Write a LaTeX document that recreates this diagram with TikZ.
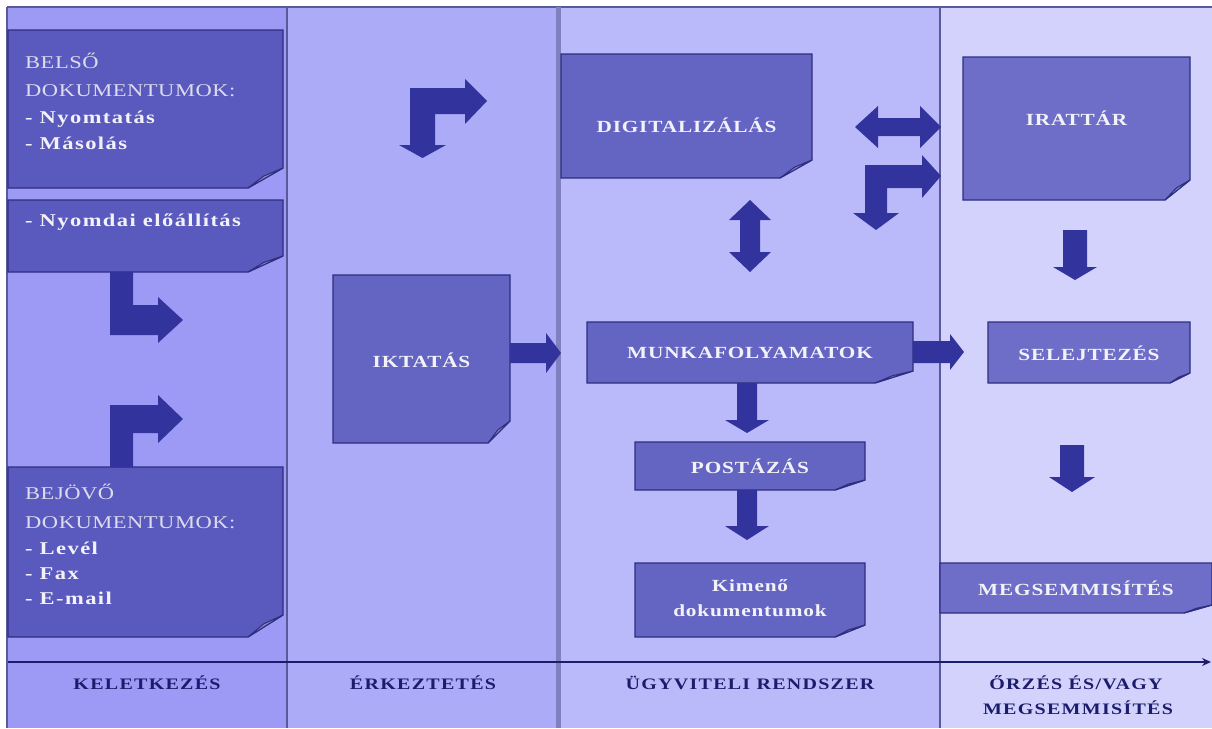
\documentclass[tikz,border=0pt]{standalone}
\usepackage{fontspec}
\usetikzlibrary{arrows.meta}
\setmainfont{Liberation Serif}
\newfontfamily\lblfont[FakeStretch=1.25, LetterSpace=5]{Liberation Serif}
\newfontfamily\colfont[FakeStretch=1.25, LetterSpace=3]{Liberation Serif}
\newfontfamily\colbfont[FakeStretch=1.25, LetterSpace=8]{Liberation Serif}
\newfontfamily\axfont[FakeStretch=1.25, LetterSpace=8]{Liberation Serif}
\definecolor{bgA}{HTML}{9C9AF5}
\definecolor{bgB}{HTML}{ABABF8}
\definecolor{bgC}{HTML}{BABAFA}
\definecolor{bgD}{HTML}{D2D2FC}
\definecolor{boxA}{HTML}{5A5ABE}
\definecolor{boxB}{HTML}{6464C3}
\definecolor{boxC}{HTML}{6E6EC8}
\definecolor{arrc}{HTML}{33339E}
\definecolor{edgec}{HTML}{2E2E80}
\definecolor{foldc}{HTML}{8484C8}
\definecolor{txtc}{HTML}{F2F2F8}
\definecolor{capc}{HTML}{DCDCEE}
\definecolor{navy}{HTML}{1C1C6C}
\definecolor{sepc}{HTML}{5A5A9A}
\pgfdeclarelayer{bg}
\pgfdeclarelayer{boxes}
\pgfsetlayers{bg,boxes,main}
\tikzset{
  docbox/.style={inner sep=0pt, outer sep=0pt},
  boxlbl/.style={text=txtc, font=\lblfont\bfseries\fontsize{17}{20}\selectfont, align=center, inner sep=0pt},
  coltxt/.style={text=capc, anchor=base west, inner sep=0pt, font=\colfont\fontsize{18}{27}\selectfont},
  colbold/.style={text=txtc, anchor=base west, inner sep=0pt, font=\colbfont\bfseries\fontsize{18}{27}\selectfont},
  axlbl/.style={text=navy, anchor=base, inner sep=0pt, font=\axfont\bfseries\fontsize{16}{18}\selectfont},
  arr/.style={fill=arrc},
}
% paper box: node name, fill, fold width, fold height
\newcommand\paper[4]{%
  \begin{pgfonlayer}{boxes}
  \fill[#2, draw=edgec, line width=1.3pt] (#1.north west) -- (#1.north east) -- ([yshift=#4pt]#1.south east)
     -- ([xshift=-#3pt]#1.south east) -- (#1.south west) -- cycle;
  \fill[foldc, draw=edgec, line width=1pt] ([yshift=#4pt]#1.south east) -- ([xshift=-#3pt]#1.south east)
     -- ([xshift=-0.55*#3pt, yshift=0.6*#4pt]#1.south east) -- cycle;
  \end{pgfonlayer}}
% right arrow: x1, xtip, yc, bar half, head half, head length
\newcommand\rarrow[6]{\fill[arr] (#1,{#3-#4}) -- ({#2-#6},{#3-#4}) -- ({#2-#6},{#3-#5}) -- (#2,#3)
   -- ({#2-#6},{#3+#5}) -- ({#2-#6},{#3+#4}) -- (#1,{#3+#4}) -- cycle;}
% down arrow: xc, y1, ytip, bar half, head half, head length
\newcommand\darrow[6]{\fill[arr] ({#1-#4},#2) -- ({#1+#4},#2) -- ({#1+#4},{#3-#6}) -- ({#1+#5},{#3-#6})
   -- (#1,#3) -- ({#1-#5},{#3-#6}) -- ({#1-#4},{#3-#6}) -- cycle;}
\begin{document}
\begin{tikzpicture}[x=1pt,y=-1pt]
\useasboundingbox (0,0) rectangle (1212,728);
\begin{pgfonlayer}{bg}
\fill[white] (0,0) rectangle (1212,728);
\fill[bgA] (7,7) rectangle (287,728);
\fill[bgB] (287,7) rectangle (558,728);
\fill[bgC] (558,7) rectangle (940,728);
\fill[bgD] (940,7) rectangle (1212,728);
\draw[sepc, line width=1.5pt] (7,7) -- (1212,7);
\draw[sepc, line width=2pt] (7,7) -- (7,728);
\draw[sepc, line width=2.5pt] (287,7) -- (287,728);
\draw[color=sepc!60!bgC, line width=5pt] (558,7) -- (558,728);
\draw[sepc, line width=2.5pt] (940,7) -- (940,728);
\end{pgfonlayer}

% column 1 boxes
\node[docbox, minimum width=275pt, minimum height=158pt] (belso) at (145.5,109) {};
\paper{belso}{boxA}{35}{20}
\node[coltxt] (b1) at (25,68) {BELSŐ};
\node[coltxt] (b2) at (25,96) {DOKUMENTUMOK:};
\node[colbold] (b3) at (25,123) {- Nyomtatás};
\node[colbold] (b4) at (25,149) {- Másolás};

\node[docbox, minimum width=275pt, minimum height=72pt] (nyomdai) at (145.5,236) {};
\paper{nyomdai}{boxA}{35}{16}
\node[colbold] (n1) at (25,226) {- Nyomdai előállítás};

\node[docbox, minimum width=275pt, minimum height=170pt] (bejovo) at (145.5,552) {};
\paper{bejovo}{boxA}{35}{22}
\node[coltxt] (j1) at (25,499) {BEJÖVŐ};
\node[coltxt] (j2) at (25,528) {DOKUMENTUMOK:};
\node[colbold] (j3) at (25,554) {- Levél};
\node[colbold] (j4) at (25,579) {- Fax};
\node[colbold] (j5) at (25,604) {- E-mail};

% L arrows in column 1
\fill[arr] (110,272) -- (133,272) -- (133,305) -- (158,305) -- (158,297) -- (183,320)
  -- (158,343) -- (158,335) -- (110,335) -- cycle;
\fill[arr] (110,467) -- (110,405) -- (158,405) -- (158,395) -- (183,419) -- (158,443)
  -- (158,433) -- (133,433) -- (133,467) -- cycle;

% column 2
\node[docbox, minimum width=177pt, minimum height=168pt] (iktatas) at (421.5,359) {};
\paper{iktatas}{boxB}{22}{22}
\node[boxlbl] (iktatas-t) at (421.5,360) {IKTATÁS};
\fill[arr] (410,145) -- (410,88) -- (465,88) -- (465,79) -- (487,101) -- (465,124) -- (465,114)
  -- (435,114) -- (435,145) -- (446,145) -- (422.5,158) -- (399,145) -- cycle;
\rarrow{510}{561}{353}{10}{20}{15}

% column 3
\node[docbox, minimum width=251pt, minimum height=124pt] (digit) at (686.5,116) {};
\paper{digit}{boxB}{32}{18}
\node[boxlbl] (digit-t) at (686.5,125) {DIGITALIZÁLÁS};

\node[docbox, minimum width=326pt, minimum height=61pt] (munka) at (750,352.5) {};
\paper{munka}{boxB}{38}{12}
\node[boxlbl] (munka-t) at (750,353) {MUNKAFOLYAMATOK};

\node[docbox, minimum width=230pt, minimum height=48pt] (posta) at (750,466) {};
\paper{posta}{boxB}{30}{10}
\node[boxlbl] (posta-t) at (750,466) {POSTÁZÁS};

\node[docbox, minimum width=230pt, minimum height=74pt] (kimeno) at (750,600) {};
\paper{kimeno}{boxB}{30}{12}
\node[boxlbl, font=\lblfont\bfseries\fontsize{17}{25}\selectfont] (kimeno-t) at (750,598) {Kimenő\\dokumentumok};

% double vertical arrow
\fill[arr] (750,200) -- (771,220) -- (760,220) -- (760,252) -- (771,252) -- (750,272)
  -- (729,252) -- (740,252) -- (740,220) -- (729,220) -- cycle;
% double horizontal arrow
\fill[arr] (855,127) -- (878,106) -- (878,118) -- (920,118) -- (920,106) -- (941,127)
  -- (920,148) -- (920,136) -- (878,136) -- (878,148) -- cycle;
% L arrow near archive
\fill[arr] (865,213) -- (865,165) -- (922,165) -- (922,155) -- (941,176) -- (922,198) -- (922,188)
  -- (887,188) -- (887,213) -- (899,213) -- (876,230) -- (853,213) -- cycle;

\darrow{747}{383}{433}{10}{22}{13}
\darrow{747}{490}{540}{10}{22}{14}
\rarrow{913}{964}{352}{11}{18}{14}

% column 4
\node[docbox, minimum width=227pt, minimum height=143pt] (irattar) at (1076.5,128.5) {};
\paper{irattar}{boxC}{25}{20}
\node[boxlbl] (irattar-t) at (1076.5,118) {IRATTÁR};

\node[docbox, minimum width=202pt, minimum height=61pt] (selejt) at (1089,352.5) {};
\paper{selejt}{boxC}{20}{10}
\node[boxlbl] (selejt-t) at (1089,353) {SELEJTEZÉS};

\node[docbox, minimum width=272pt, minimum height=50pt] (megs) at (1076,588) {};
\paper{megs}{boxC}{28}{8}
\node[boxlbl] (megs-t) at (1076,588) {MEGSEMMISÍTÉS};

\darrow{1075}{230}{280}{12}{22}{13}
\darrow{1072}{445}{492}{12}{23}{15}

% timeline
\coordinate (axL) at (8,662);
\coordinate (axR) at (1211,662);
\draw[navy, line width=2.5pt, -{Stealth[length=9pt,width=8pt]}] (axL) -- (axR);

\node[axlbl] (l1) at (147,689) {KELETKEZÉS};
\node[axlbl] (l2) at (423,689) {ÉRKEZTETÉS};
\node[axlbl] (l3) at (750,689) {ÜGYVITELI RENDSZER};
\node[axlbl] (l4) at (1076,689) {ŐRZÉS ÉS/VAGY};
\node[axlbl] (l5) at (1078,714) {MEGSEMMISÍTÉS};
\end{tikzpicture}
\end{document}
